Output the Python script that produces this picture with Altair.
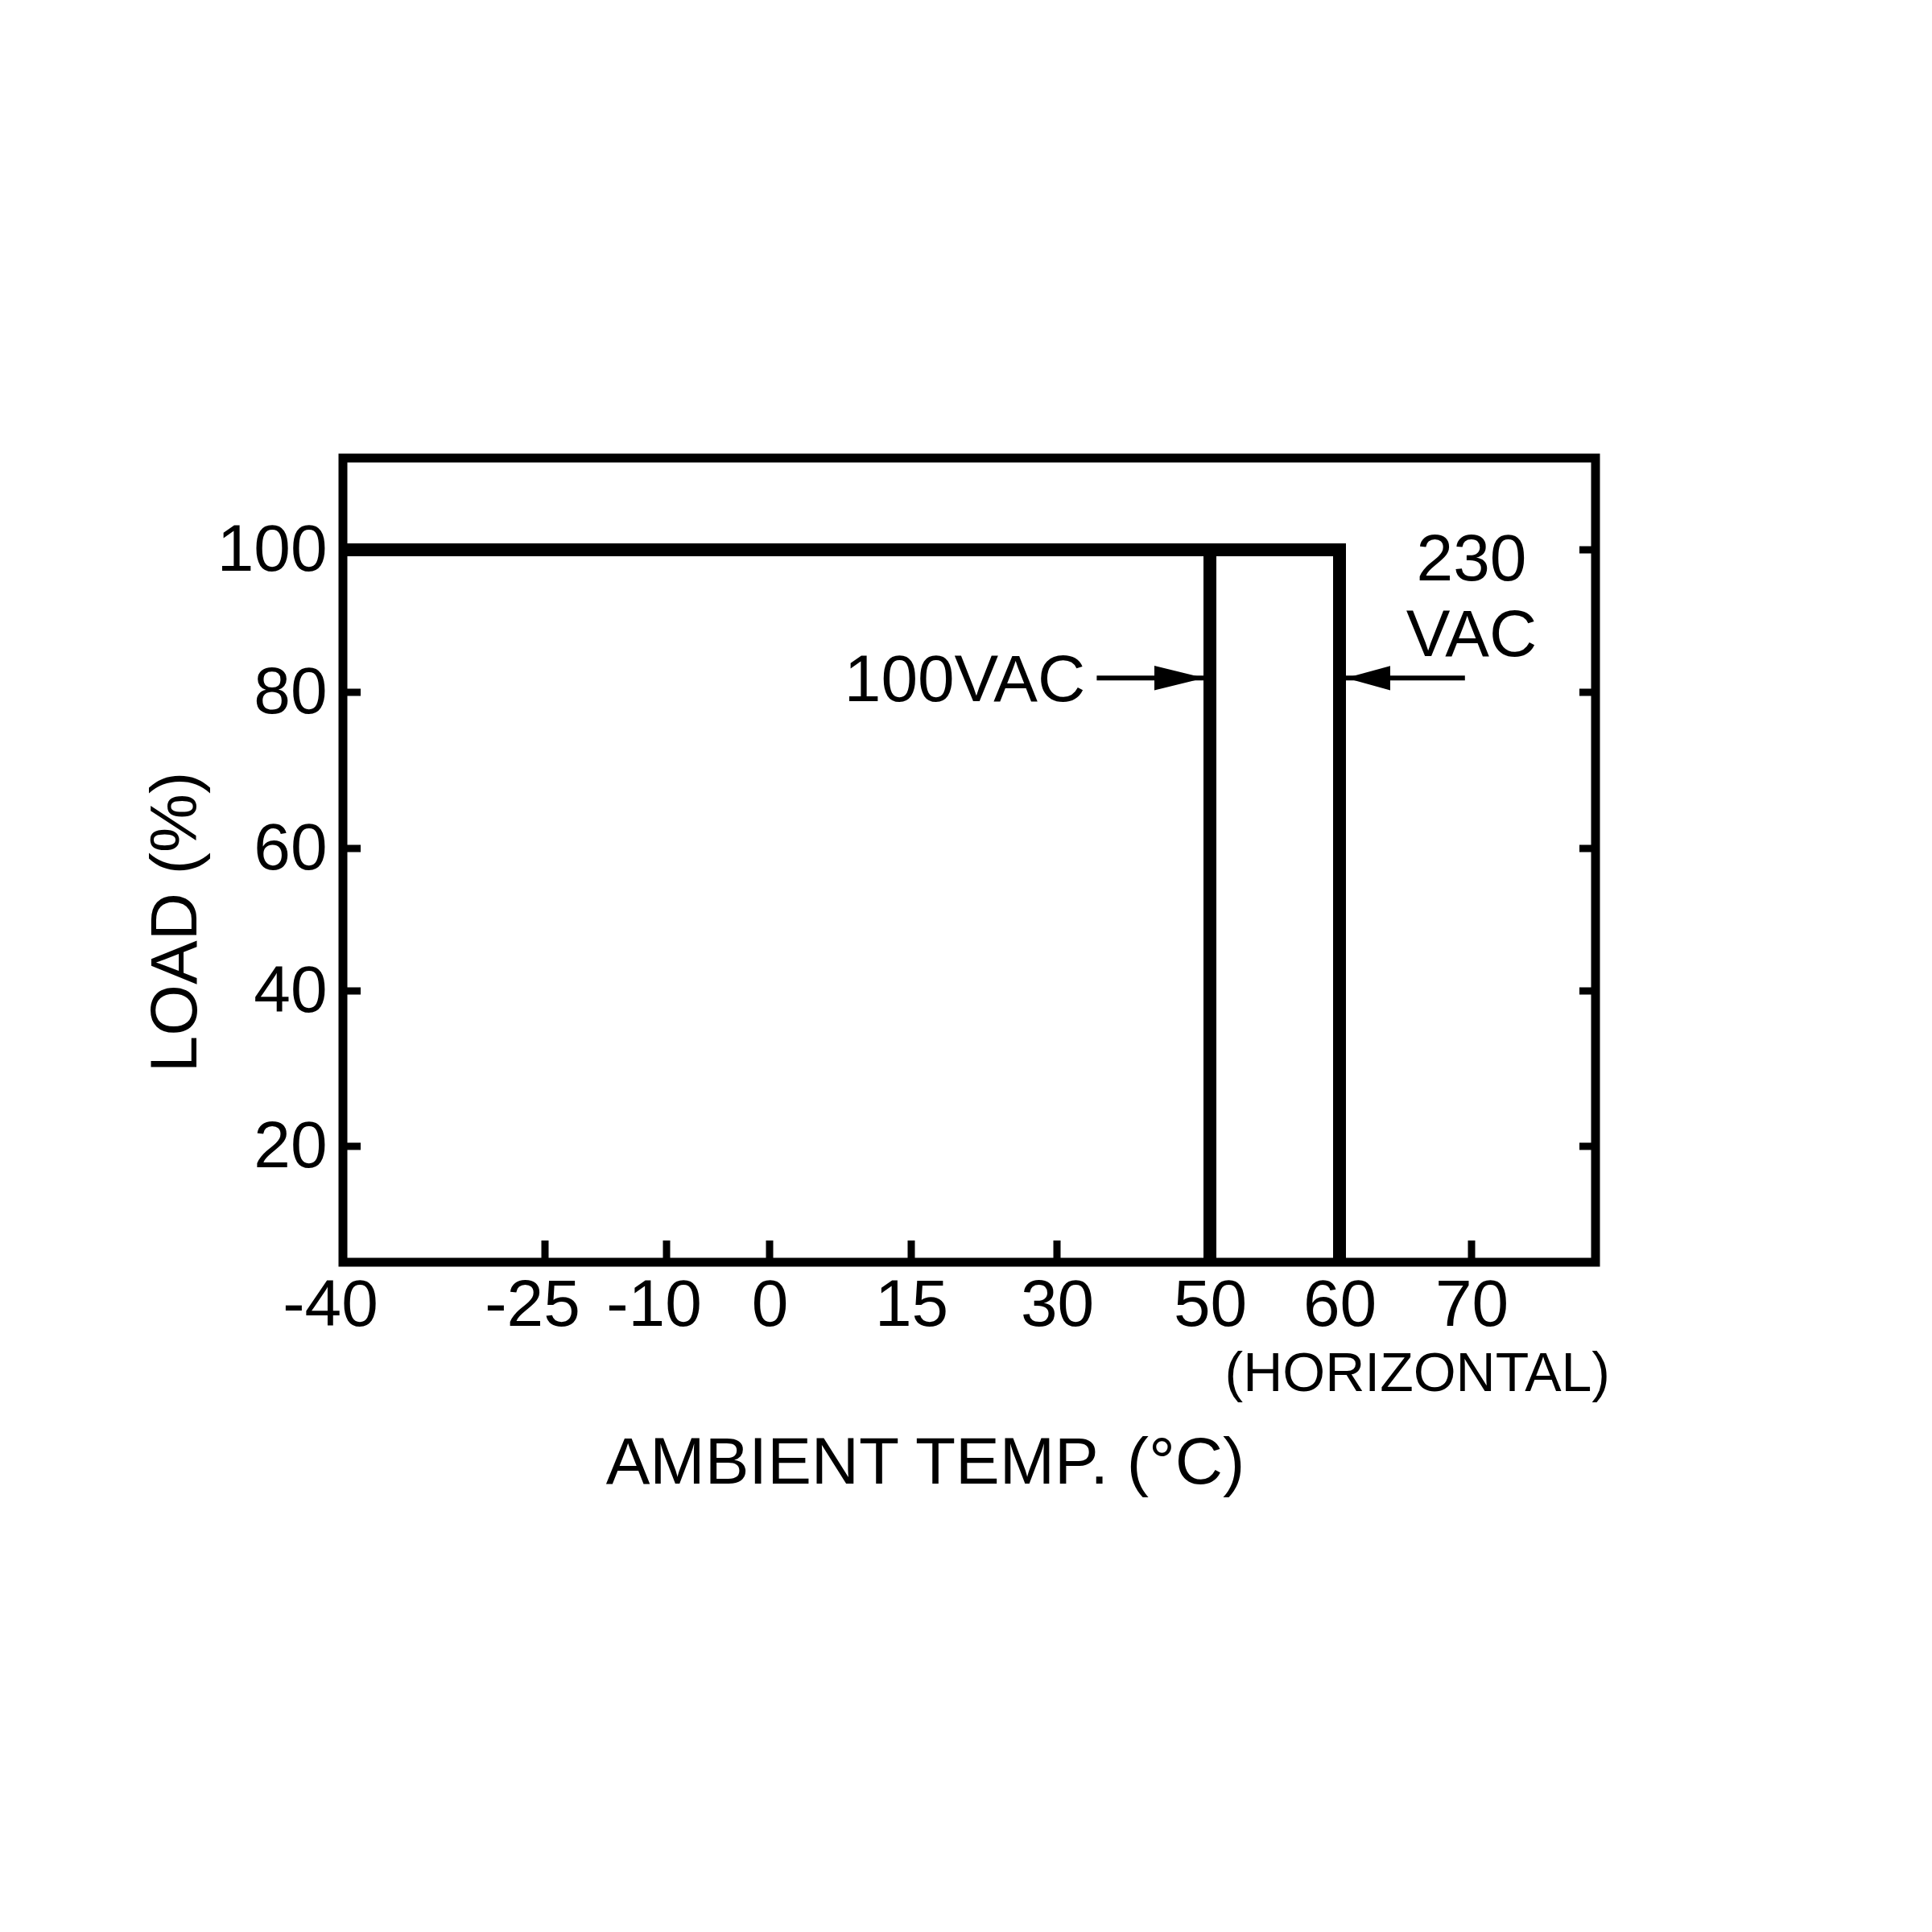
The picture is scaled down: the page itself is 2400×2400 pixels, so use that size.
import altair as alt
import pandas as pd

# ---- data ----
temp_ticks = [-40, -25, -10, 0, 15, 30, 50, 60, 70]
load_ticks = [20, 40, 60, 80, 100]
inner_x_ticks = [-25, -10, 0, 15, 30, 50, 60, 70]
inner_y_ticks_left = [20, 40, 60, 80]
inner_y_ticks_right = [20, 40, 60, 80, 100]

# schematic (non-uniform) axes of the reference: piecewise scale breakpoints
x_domain = [-40, -25, -10, 0, 15, 30, 50, 60, 70, 79.4]
x_range = [0, 251, 402, 530, 706, 887, 1077, 1238, 1402, 1556]
y_domain = [5, 20, 40, 60, 80, 100, 113]
y_range = [999, 855, 662, 485, 291, 114, 0]

curve_series = ["230VAC", "230VAC", "230VAC", "100VAC", "100VAC", "100VAC"]
curve_temp = [-40, 60, 60, -40, 50, 50]
curve_load = [100, 100, 5, 100, 100, 5]
curve_order = [0, 1, 2, 0, 1, 2]

arrow_load = 82
arrow100_from, arrow100_to = 35.2, 50
arrow230_from, arrow230_to = 69.5, 60

label100 = ("100VAC", 33.7, 82)
label230a = ("230", 70, 99)
label230b = ("VAC", 70, 88.4)
label_h = ("(HORIZONTAL)", 65.9)

W, H = 1556, 999
FONT = "Liberation Sans"
FS = 82

xscale = alt.Scale(domain=x_domain, range=x_range, nice=False, zero=False)
yscale = alt.Scale(domain=y_domain, range=y_range, nice=False, zero=False)

xaxis = alt.Axis(
    values=temp_ticks, domain=False, ticks=False, tickSize=0, grid=False,
    labelPadding=13, labelFont=FONT, labelFontSize=FS, labelColor="black",
    labelFlush=False, labelOverlap=False, labelExpr="'' + datum.value",
    labelOffset={"condition": {"test": "datum.value < 0", "value": -16}, "value": 0},
    title="AMBIENT TEMP. (°C)", titleFont=FONT, titleFontSize=FS,
    titleFontWeight="normal", titleColor="black", titleX=723, titleY=274,
    titleBaseline="alphabetic", titleAlign="center", titleAnchor="start",
)
yaxis = alt.Axis(
    values=load_ticks, domain=False, ticks=False, tickSize=0, grid=False,
    labelPadding=20, labelFont=FONT, labelFontSize=FS, labelColor="black",
    labelFlush=False, labelOverlap=False,
    title="LOAD (%)", titleFont=FONT, titleFontSize=FS,
    titleFontWeight="normal", titleColor="black", titleX=-183, titleY=576,
    titleAngle=270, titleBaseline="alphabetic", titleAlign="center",
    titleAnchor="start",
)


def X():
    return alt.X("temp:Q", scale=xscale, axis=xaxis)


def Y():
    return alt.Y("load:Q", scale=yscale, axis=yaxis)


curves = pd.DataFrame({"series": curve_series, "temp": curve_temp,
                       "load": curve_load, "ord": curve_order})

line_layer = alt.Chart(curves).mark_line(
    color="black", strokeWidth=16, strokeCap="butt", strokeJoin="miter"
).encode(x=X(), y=Y(), detail="series:N", order="ord:Q")

# inward ticks
bt = alt.Chart(pd.DataFrame({"temp": inner_x_ticks})).mark_rule(
    color="black", strokeWidth=9, strokeCap="butt"
).encode(x=X(), y=alt.value(H - 27), y2=alt.value(H))

lt = alt.Chart(pd.DataFrame({"load": inner_y_ticks_left})).mark_rule(
    color="black", strokeWidth=9, strokeCap="butt"
).encode(y=Y(), x=alt.value(0), x2=alt.value(22))

rt = alt.Chart(pd.DataFrame({"load": inner_y_ticks_right})).mark_rule(
    color="black", strokeWidth=9, strokeCap="butt"
).encode(y=Y(), x=alt.value(W - 20), x2=alt.value(W))

# arrows
shafts = alt.Chart(pd.DataFrame({
    "temp": [arrow100_from, arrow230_from],
    "temp2": [arrow100_to, arrow230_to],
    "load": [arrow_load, arrow_load],
})).mark_rule(color="black", strokeWidth=6, strokeCap="butt").encode(
    x=X(), x2="temp2:Q", y=Y())

head100 = alt.Chart(pd.DataFrame({"temp": [arrow100_to], "load": [arrow_load]})).mark_point(
    shape="M -0.1 0 L -1 -0.22 L -1 0.22 Z", size=19044, filled=True,
    color="black", opacity=1, strokeWidth=0
).encode(x=X(), y=Y())

head230 = alt.Chart(pd.DataFrame({"temp": [arrow230_to], "load": [arrow_load]})).mark_point(
    shape="M 0.127 0 L 1 -0.24 L 1 0.24 Z", size=15876, filled=True,
    color="black", opacity=1, strokeWidth=0
).encode(x=X(), y=Y())

# text labels
t100 = alt.Chart(pd.DataFrame({"txt": [label100[0]], "temp": [label100[1]], "load": [label100[2]]})).mark_text(
    font=FONT, fontSize=FS, color="black", align="right", baseline="middle", dy=4
).encode(x=X(), y=Y(), text="txt:N")

t230 = alt.Chart(pd.DataFrame({"txt": [label230a[0], label230b[0]],
                               "temp": [label230a[1], label230b[1]],
                               "load": [label230a[2], label230b[2]]})).mark_text(
    font=FONT, fontSize=FS, color="black", align="center", baseline="middle", dy=4
).encode(x=X(), y=Y(), text="txt:N")

th = alt.Chart(pd.DataFrame({"txt": [label_h[0]], "temp": [label_h[1]]})).mark_text(
    font=FONT, fontSize=68, color="black", align="center", baseline="alphabetic"
).encode(x=X(), y=alt.value(1159), text="txt:N")

chart = alt.layer(
    bt, lt, rt, shafts, head100, head230, line_layer, t100, t230, th
).properties(
    width=W, height=H,
    autosize=alt.AutoSizeParams(type="none"),
    padding={"left": 418, "top": 561, "right": 400, "bottom": 820},
    background="white",
).configure_view(stroke="black", strokeWidth=11)

chart.save("out.html", embed_options={"renderer": "svg", "actions": False})
